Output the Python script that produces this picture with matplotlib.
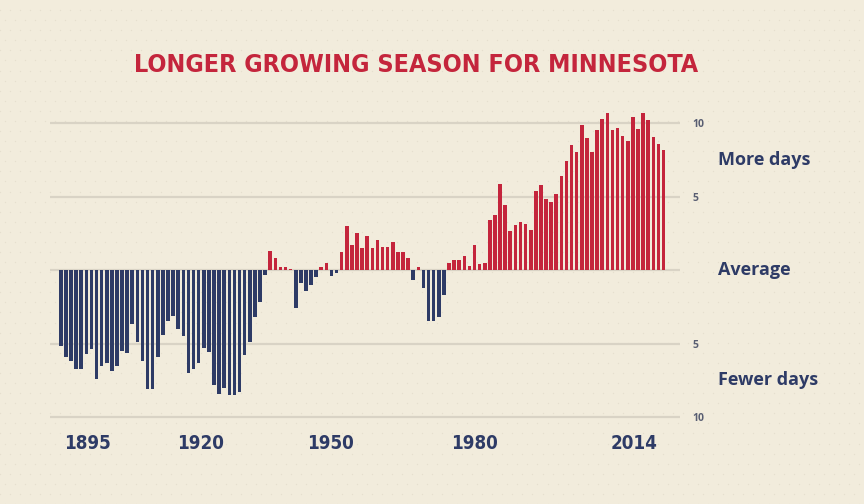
import numpy as np
import matplotlib.pyplot as plt
from matplotlib.transforms import blended_transform_factory

# data: growing season length vs. average (days), one bar per year
years = np.arange(1895, 2014)
days = np.array([
    -5.2, -5.9, -6.2, -6.7, -6.7, -5.7, -5.4, -7.4, -6.5, -6.3,
    -6.9, -6.55, -5.5, -5.65, -3.7, -4.9, -6.2, -8.1, -8.1, -5.9,
    -4.4, -3.5, -3.1, -4.0, -4.5, -7.0, -6.7, -6.3, -5.3, -5.6,
    -7.8, -8.4, -8.0, -8.5, -8.5, -8.3, -5.8, -4.9, -3.2, -2.2,
    -0.35, 1.3, 0.85, 0.2, 0.2, 0.1, -2.6, -0.9, -1.4, -1.0,
    -0.5, 0.2, 0.5, -0.4, -0.2, 1.25, 3.0, 1.7, 2.5, 1.5,
    2.3, 1.5, 2.05, 1.6, 1.6, 1.9, 1.2, 1.2, 0.8, -0.7,
    0.2, -1.25, -3.45, -3.45, -3.2, -1.7, 0.5, 0.65, 0.7, 0.95,
    0.3, 1.7, 0.4, 0.5, 3.4, 3.75, 5.85, 4.4, 2.65, 3.05,
    3.3, 3.1, 2.7, 5.35, 5.8, 4.8, 4.65, 5.15, 6.4, 7.45,
    8.5, 8.0, 9.9, 9.0, 8.0, 9.5, 10.3, 10.7, 9.5, 9.65,
    9.1, 8.8, 10.4, 9.6, 10.7, 10.2, 9.05, 8.6, 8.2,
])

# axis labels as printed on the chart (placed where they sit in the original)
xtick_pos = [1900.3, 1922.3, 1947.7, 1975.9, 2007.2]
xtick_labels = ['1895', '1920', '1950', '1980', '2014']
ytick_vals = [10, 5, -5, -10]
ytick_labels = ['10', '5', '5', '10']
side_labels = [(7.5, 'More days'), (0, 'Average'), (-7.5, 'Fewer days')]

bg = '#f2ecdc'
navy = '#2e3b66'
red = '#c4253c'
grid_col = '#d9d3c5'

fig = plt.figure(figsize=(8.64, 5.04), dpi=100, facecolor=bg)

# faint dotted paper texture
bgax = fig.add_axes([0, 0, 1, 1], zorder=-5)
bgax.set_xlim(0, 1)
bgax.set_ylim(0, 1)
bgax.axis('off')
gx, gy = np.meshgrid(np.arange(0, 1, 1 / 86), np.arange(0, 1, 1 / 50))
gx[::2] += 0.5 / 86
bgax.scatter(gx.ravel(), gy.ravel(), s=1.0, color='#e6dfce', linewidths=0)

ax = fig.add_axes([0.0579, 0.158, 0.729, 0.627])
ax.set_facecolor('none')

colors = [red if d >= 0 else navy for d in days]
ax.bar(years, days, width=0.7, color=colors, zorder=3)

for lvl in [10, 5, 0, -5, -10]:
    ax.axhline(lvl, color=grid_col, linewidth=1.6, zorder=1)

ax.set_xlim(1892.9, 2016.2)
ax.set_ylim(-10.5, 11)
for s in ax.spines.values():
    s.set_visible(False)

ax.set_xticks(xtick_pos)
ax.set_xticklabels(xtick_labels, family='DejaVu Sans', fontstretch='condensed',
                   fontweight='bold', fontsize=13.5, color=navy)
ax.yaxis.tick_right()
ax.set_yticks(ytick_vals)
ax.set_yticklabels(ytick_labels, family='Open Sans', fontweight='bold',
                   fontsize=7.5, color='#595e72')
ax.tick_params(axis='x', length=0, pad=7)
ax.tick_params(axis='y', length=0, pad=9)

tr = blended_transform_factory(ax.transAxes, ax.transData)
for yv, txt in side_labels:
    ax.text(1.06, yv, txt, transform=tr, ha='left', va='center',
            family='Open Sans', fontweight='bold', fontsize=13, color=navy)

fig.text(0.481, 0.871, 'LONGER GROWING SEASON FOR MINNESOTA', ha='center',
         va='center', family='DejaVu Sans', fontstretch='condensed',
         fontweight='bold', fontsize=18, color=red)

fig.savefig('out.png', dpi=100, facecolor=bg)
